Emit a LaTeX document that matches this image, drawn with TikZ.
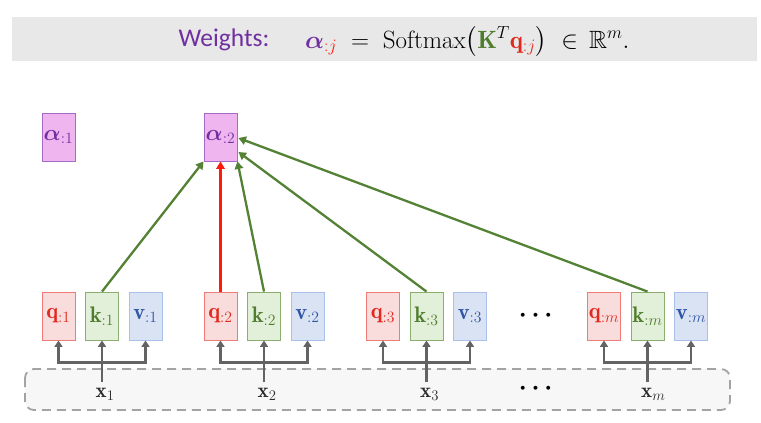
\RequirePackage{fix-cm}
\documentclass[tikz,border=0pt]{standalone}
\usepackage{amsmath,amssymb}
\usepackage{fontspec}
\newfontfamily\calib{Carlito}
\usetikzlibrary{arrows.meta,calc}
\definecolor{qfill}{HTML}{F9DCDC}
\definecolor{qdraw}{HTML}{EE7B78}
\definecolor{qtext}{HTML}{E02A1F}
\definecolor{kfill}{HTML}{E2EFD9}
\definecolor{kdraw}{HTML}{8AAE6E}
\definecolor{ktext}{HTML}{4E7D2E}
\definecolor{vfill}{HTML}{DAE3F3}
\definecolor{vdraw}{HTML}{A9C1EA}
\definecolor{vtext}{HTML}{2F55A5}
\definecolor{afill}{HTML}{EFB5EF}
\definecolor{adraw}{HTML}{A66BC6}
\definecolor{atext}{HTML}{7030A0}
\definecolor{connc}{HTML}{636363}
\definecolor{greenarr}{HTML}{548235}
\definecolor{redarr}{HTML}{FF1A0A}
\definecolor{bannerfill}{HTML}{E8E8E8}
\definecolor{dashc}{HTML}{A3A3A3}
\definecolor{dashfill}{HTML}{F7F7F7}
\definecolor{xtext}{HTML}{2B2B2B}
\begin{document}
\begin{tikzpicture}[x={(1pt,0pt)},y={(0pt,-1pt)},
  box/.style={draw, line width=0.9pt, minimum width=33pt, minimum height=48pt, inner sep=0pt, font=\fontsize{22.5}{25}\selectfont},
  qbox/.style={box, draw=qdraw, fill=qfill, text=qtext},
  kbox/.style={box, draw=kdraw, fill=kfill, text=ktext},
  vbox/.style={box, draw=vdraw, fill=vfill, text=vtext},
  abox/.style={box, draw=adraw, fill=afill, text=atext},
  xlab/.style={inner xsep=0pt, inner ysep=5pt, anchor=base west, text=xtext, font=\fontsize{21}{24}\selectfont},
  conn/.style={draw=connc, line width=2.4pt, -{Triangle[width=8pt,length=6.5pt]}},
  garr/.style={draw=greenarr, line width=2.3pt, -{Triangle[width=8.5pt,length=7.5pt]}},
  rarr/.style={draw=redarr, line width=2.3pt, -{Triangle[width=8.5pt,length=7.5pt]}},
  dots/.style={text=black, font=\fontsize{25}{27}\selectfont}
]
\useasboundingbox (0,0) rectangle (761,423);
% banner
\fill[bannerfill] (12,17) rectangle (757,61);
\node[text=atext, font=\calib\fontsize{25.5}{30}\selectfont] (wlab) at (224,40) {Weights:};
\node[anchor=base west, inner sep=0pt, font=\fontsize{25}{30}\selectfont] (formula) at (305,48)
  {$\textcolor{atext}{\boldsymbol{\alpha}}_{\textcolor{redarr}{:j}} \;=\; \mathrm{Softmax}\big(\textcolor{ktext}{\mathbf{K}}^{T}\textcolor{qtext}{\mathbf{q}}_{\textcolor{qtext}{:j}}\big) \;\in\, \mathbb{R}^{m}.$};
% input strip
\draw[dashc, fill=dashfill, dashed, dash pattern=on 9pt off 6pt, line width=1.8pt, rounded corners=9pt] (25,369) rectangle (730,410);
% alpha boxes
\node[abox] (a1) at (58.5,137) {$\boldsymbol{\alpha}_{:1}$};
\node[abox] (a2) at (220.5,137) {$\boldsymbol{\alpha}_{:2}$};
% groups
\foreach \n/\cx/\s in {1/58.5/1,2/220.5/2,3/383/3,m/604/m}{
  \node[qbox] (q\n) at (\cx,316) {$\mathbf{q}_{:\s}$};
  \node[kbox] (k\n) at (\cx+43.5,316) {$\mathbf{k}_{:\s}$};
  \node[vbox] (v\n) at (\cx+87,316) {$\mathbf{v}_{:\s}$};
  \node[xlab] (x\n) at (\cx+37,397) {$\mathbf{x}_{\s}$};
  \draw[conn] (k\n.south |- x\n.north) -- (k\n.south);
  \draw[conn] ($(k\n.south)+(0,22)$) -| (q\n.south);
  \draw[conn] ($(k\n.south)+(0,22)$) -| (v\n.south);
}
\node[dots] (d1) at (538,316) {$\boldsymbol{\cdots}$};
\node[dots] (d2) at (538,389) {$\boldsymbol{\cdots}$};
% attention arrows
\draw[garr] (k1.north) -- (a2.south west);
\draw[rarr] (q2.north) -- (a2.south);
\draw[garr] (k2.north) -- (a2.south east);
\draw[garr] (k3.north) -- ($(a2.east)+(1,15)$);
\draw[garr] (km.north) -- ($(a2.east)+(1,1)$);
\end{tikzpicture}
\end{document}
